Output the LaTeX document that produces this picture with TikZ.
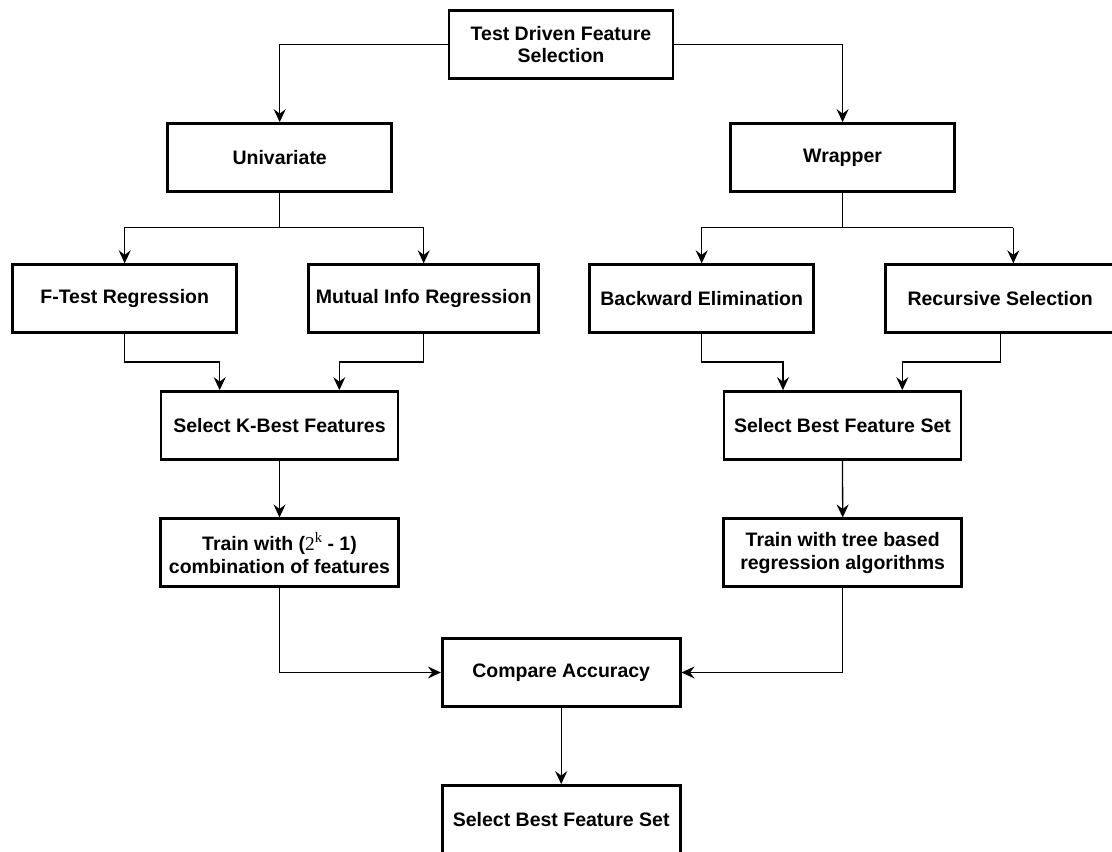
\documentclass[tikz,border=0pt]{standalone}
\usepackage{fontspec}
\setmainfont{Liberation Sans}
\newfontfamily\serifpart{Liberation Serif}
\usetikzlibrary{arrows.meta}

\begin{document}
\begin{tikzpicture}[x=1pt,y=-1pt,
  box/.style={draw=black, line width=2.7pt, fill=white, align=center,
    inner sep=0pt, minimum height=68pt,
    font=\bfseries\fontsize{19.5}{22.5}\selectfont},
  link/.style={draw=black, line width=1.3pt},
  arr/.style={link, -{Stealth[length=13pt,width=12pt,inset=4.5pt]}}]

\useasboundingbox (0,0) rectangle (1112,852);

% root
\node[box, minimum width=224pt] (root) at (561,44.7) {Test Driven Feature\\Selection};

% two families of methods
\node[box, minimum width=224pt] (univ) at (279.7,157.5) {Univariate};
\node[box, minimum width=224pt] (wrap) at (842.6,157.5) {Wrapper};

% scoring / search methods
\node[box, minimum width=224pt] (ftest)  at (124.7,298.7) {F-Test Regression};
\node[box, minimum width=230pt] (mutual) at (423.7,298.7) {Mutual Info Regression};
\node[box, minimum width=224pt] (backw)  at (701.7,298.7) {Backward Elimination};
\node[box, minimum width=230pt] (recur)  at (1000.2,298.7) {Recursive Selection};

% selection
\node[box, minimum width=237pt] (kbest)   at (279.5,425.5) {Select K-Best Features};
\node[box, minimum width=237pt] (bestset) at (842.5,425.5) {Select Best Feature Set};

% training
\node[box, minimum width=238pt] (trainA) at (279.5,552.8)
  {Train with ({\serifpart\mdseries 2\raisebox{0.42em}{\fontsize{14.5}{14.5}\selectfont k}} - 1)\\combination of features};
\node[box, minimum width=238pt] (trainB) at (842.7,552.8)
  {Train with tree based\\regression algorithms};

% comparison and result
\node[box, minimum width=238pt] (compare) at (561.2,672.5) {Compare Accuracy};
\node[box, minimum width=238pt] (final)   at (561.2,819.5) {Select Best Feature Set};

% junction points
\coordinate (ujoin) at (279.7,227.7);
\coordinate (wjoin) at (842.6,227.7);
\coordinate (recin) at (1013.3,227.7);
\coordinate (fbend) at (124.7,362);
\coordinate (mbend) at (423.7,362);
\coordinate (bbend) at (701.7,362);
\coordinate (rbend) at (1000.7,362);
\coordinate (kin1) at (219.7,362);
\coordinate (kin2) at (339.3,362);
\coordinate (sin1) at (783,362);
\coordinate (sin2) at (902.3,362);

% root to families
\draw[arr] (root.west) -| (univ.north);
\draw[arr] (root.east) -| (wrap.north);

% univariate branch
\draw[link] (univ.south) -- (ujoin);
\draw[arr] (ujoin) -| (ftest.north);
\draw[arr] (ujoin) -| (mutual.north);

% wrapper branch
\draw[link] (wrap.south) -- (wjoin);
\draw[arr] (wjoin) -| (backw.north);
\draw[link] (wjoin) -- (recin);
\draw[arr] (recin) -- (recin |- recur.north);

% merge into K-best
\draw[arr] (ftest.south) -- (fbend) -- (kin1) -- (kin1 |- kbest.north);
\draw[arr] (mutual.south) -- (mbend) -- (kin2) -- (kin2 |- kbest.north);

% merge into best feature set
\draw[arr] (backw.south) -- (bbend) -- (sin1) -- (sin1 |- bestset.north);
\draw[arr] (rbend |- recur.south) -- (rbend) -- (sin2) -- (sin2 |- bestset.north);

% down to training
\draw[arr] (kbest.south) -- (trainA.north);
\draw[arr] (bestset.south) -- (trainB.north);

% into comparison
\draw[arr] (trainA.south) |- (compare.west);
\draw[arr] (trainB.south) |- (compare.east);

% final result
\draw[arr] (compare.south) -- (final.north);
\end{tikzpicture}
\end{document}
